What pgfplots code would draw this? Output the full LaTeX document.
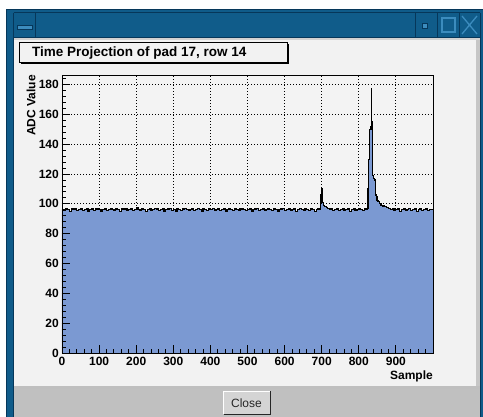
\documentclass[border=0pt]{standalone}
\usepackage{pgfplots}
\pgfplotsset{compat=1.18}
\usepackage{pgfplotstable}
\usepackage{fontspec}
\setmainfont{Liberation Sans}
\definecolor{winblue}{RGB}{16,92,138}
\definecolor{windark}{RGB}{6,55,90}
\definecolor{winlight}{RGB}{60,140,190}
\definecolor{canvasbg}{RGB}{242,242,242}
\definecolor{plotbg}{RGB}{243,243,243}
\definecolor{barfill}{RGB}{123,153,210}
\definecolor{barbg}{RGB}{192,192,192}
\definecolor{btnbg}{RGB}{212,212,212}

\pgfplotstableread{
x y
0 96
5 95.5
10 96.5
15 96
20 95
25 96.5
30 96
35 97
40 95.5
45 96
50 96.5
55 95.5
60 96
65 97
70 95
75 96
80 96.5
85 95.5
90 96.5
95 97
100 96
105 95
110 96
115 96.5
120 95.5
125 96
130 97
135 96
140 95.5
145 96.5
150 96
155 95
160 96.5
165 96
170 97
175 95.5
180 96
185 96.5
190 95.5
195 96
200 97.5
205 96
210 95.5
215 96.5
220 96
225 95
230 96
235 96.5
240 95.5
245 96
250 97
255 96.5
260 95.5
265 96
270 96.5
275 95
280 96
285 96.5
290 97
295 95.5
300 96
305 95
310 96.5
315 96
320 95.5
325 96.5
330 97
335 96
340 95.5
345 96
350 96.5
355 95.5
360 96
365 97
370 96
375 95
380 96.5
385 96
390 95.5
395 96.5
400 96
405 97
410 95.5
415 96
420 96.5
425 95.5
430 96
435 96.5
440 95
445 96
450 97
455 96
460 95.5
465 96.5
470 96
475 95.5
480 96.5
485 97
490 96
495 95.5
500 96
505 96.5
510 95
515 96
520 96.5
525 97
530 95.5
535 96
540 96.5
545 95.5
550 96
555 97
560 96
565 95.5
570 96.5
575 96
580 95
585 96
590 96.5
595 97
600 95.5
605 96
610 96.5
615 95.5
620 96
625 96.5
630 95
635 96
640 97
645 96
650 95.5
655 96.5
660 96
665 95.5
670 96.5
675 96
680 95
685 96
690 96.5
695 96
697 100
698 106
699 110
701 109
702 104
703 101
705 99
708 98
712 97.5
716 97
720 96
725 96.5
730 95.5
735 96
740 96.5
745 95.5
750 96
755 97
760 95.5
765 96
770 96.5
775 95
780 96
785 96.5
790 95.5
795 96
800 96.5
805 96
810 95.5
815 96.5
820 96
824 97
825 110
827 130
829 150
833 152
834 177.5
835 155
836 120
838 119
840 117
842 116
845 106
847 105
849 102
852 101.5
856 100
860 99
865 98.5
870 98
875 97.5
880 97
885 96
890 96.5
895 95.5
900 96
905 96.5
910 95
915 96
920 96.5
925 95.5
930 96
935 97
940 95.5
945 96
950 96.5
955 95
960 96
965 96.5
970 95.5
975 96
980 96.5
985 95.5
990 96
995 96
1000 96
}\histdata

\begin{document}
\begin{tikzpicture}
\path[use as bounding box] (0pt,0pt) rectangle (483pt,-417pt);
\begin{scope}[x=1pt,y=-1pt]
% background and window
\fill[white] (0,0) rectangle (483,417);
\fill[winblue] (6,9) rectangle (483,417);
\draw[windark,line width=1pt] (6.5,417) -- (6.5,9.5) -- (483,9.5);
% title bar
\draw[windark,line width=1pt] (13.5,13) -- (480,13);
\draw[windark,line width=1pt] (13.5,37.5) -- (480,37.5);
\draw[windark,line width=1pt] (13.5,13) -- (13.5,417);
\draw[windark,line width=1pt] (480.5,13) -- (480.5,417);
\foreach \xx in {35,415,437,459} \draw[windark,line width=1pt] (\xx,13) -- (\xx,37.5);
\filldraw[fill=winlight,draw=windark] (17,25.5) rectangle (32,29.5);
\filldraw[fill=winlight,draw=windark] (422,23) rectangle (427,28);
\draw[winlight,line width=1.2pt] (442,18) rectangle (455,32);
\draw[winlight,line width=1.3pt] (462,16) -- (477,34) (462,34) -- (477,16);
% canvas
\fill[canvasbg] (14,38) rectangle (480,390);
\fill[gray!35] (14,38) rectangle (480,40);
\fill[gray!45] (476,40) rectangle (480,390);
\fill[gray!50] (14,386) rectangle (480,389);
% bottom bar
\fill[barbg] (14,389) rectangle (480,417);
\fill[btnbg] (223,391) rectangle (270,414);
\draw[white,line width=1pt] (223.5,414) -- (223.5,391.5) -- (270,391.5);
\draw[black!85,line width=1pt] (223.5,414.5) -- (270.5,414.5) -- (270.5,391);
\node[font=\fontsize{12}{14}\selectfont,text=black!85,inner sep=0pt] at (246.5,403) {Close};
% title box
\fill[black] (21,44) rectangle (289,64.5);
\filldraw[fill=canvasbg,draw=black,line width=1pt] (19,42.5) rectangle (287,62.5);
\node[anchor=base west,inner sep=0pt,font=\fontsize{13.5}{15}\selectfont\bfseries] at (32,57) {Time Projection of pad 17, row 14};
\end{scope}

% grid axis (behind the histogram)
\begin{axis}[
  at={(62pt,-353pt)}, anchor=south west,
  scale only axis, width=371pt, height=278pt,
  xmin=0, xmax=1000, ymin=0, ymax=186.4,
  xtick={100,200,...,900}, ytick={20,40,...,180},
  xticklabels={}, yticklabels={},
  major tick length=0pt, minor tick length=0pt,
  grid=major,
  major grid style={black, line width=0.9pt, dash pattern=on 0.9pt off 2.1pt},
  axis background/.style={fill=plotbg},
  axis line style={draw=none},
]
\end{axis}

% data axis
\begin{axis}[
  at={(62pt,-353pt)}, anchor=south west,
  scale only axis, width=371pt, height=278pt,
  xmin=0, xmax=1000, ymin=0, ymax=186.4,
  axis on top,
  xtick={0,100,...,900}, ytick={0,20,...,180},
  minor xtick={20,40,...,980}, minor ytick={4,8,...,184},
  xtick pos=bottom, ytick pos=left,
  tick align=inside,
  major tick length=8pt, minor tick length=4pt,
  every tick/.style={black, line width=0.9pt},
  axis line style={black, line width=0.9pt},
  /pgf/number format/assume math mode=true,
  xticklabel style={font=\fontsize{12}{14}\selectfont\bfseries, inner sep=0pt, yshift=-4pt},
  yticklabel style={font=\fontsize{12}{14}\selectfont\bfseries, inner sep=0pt, xshift=-3pt},
  xlabel={Sample},
  xlabel style={at={(axis description cs:1,-0.065)}, anchor=north east, inner sep=0pt, font=\fontsize{12}{14}\selectfont\bfseries},
  ylabel={ADC Value},
  ylabel style={at={(axis description cs:-0.0836,1)}, anchor=east, inner sep=0pt, font=\fontsize{12}{14}\selectfont\bfseries},
]
\addplot[const plot mark left, fill=barfill, draw=none] table[x=x,y=y] {\histdata} \closedcycle;
\addplot[const plot mark left, black, line width=1.2pt] table[x=x,y=y] {\histdata};
\end{axis}
\end{tikzpicture}
\end{document}
